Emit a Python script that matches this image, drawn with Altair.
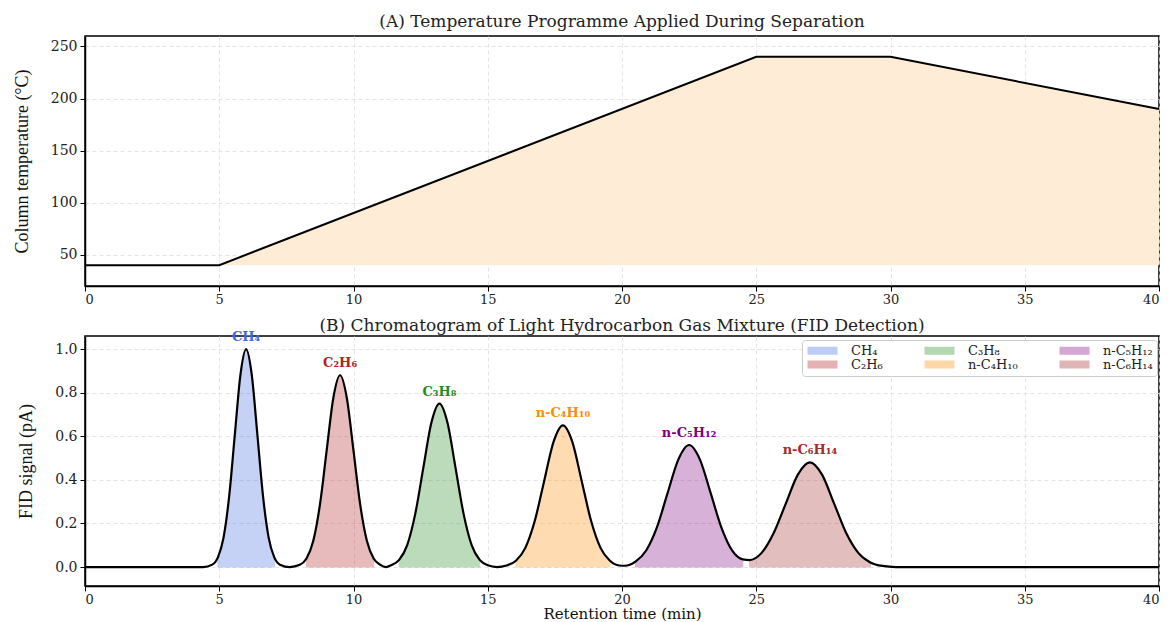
import altair as alt
import pandas as pd

# ---------------- data ----------------
# (A) temperature programme
prog_time = [0, 5, 25, 30, 40]
prog_temp = [40, 40, 240, 240, 190]

# (B) chromatogram trace (retention time in min, FID signal in pA)
sig_time = [0.0, 4.4,
            4.74, 4.95, 5.16, 5.37, 5.58, 5.79, 6.0, 6.21, 6.42, 6.63, 6.84, 7.05, 7.26,
            7.63,
            8.0, 8.25, 8.5, 8.75, 9.0, 9.25, 9.5, 9.75, 10.0, 10.25, 10.5, 10.75, 11.0,
            11.2,
            11.4, 11.7, 12.0, 12.3, 12.6, 12.9, 13.2, 13.5, 13.8, 14.1, 14.4, 14.7, 15.0,
            15.35,
            15.7, 16.05, 16.4, 16.75, 17.1, 17.45, 17.8, 18.15, 18.5, 18.85, 19.2, 19.55, 19.9,
            20.1, 20.5, 20.9, 21.3, 21.7, 22.1, 22.5, 22.9, 23.3, 23.7, 24.1, 24.5,
            24.75, 25.2, 25.65, 26.1, 26.55, 27.0, 27.45, 27.9, 28.35, 28.8, 29.25, 29.7,
            30.2, 40.0]
sig_value = [0.0, 0.0,
             0.011, 0.044, 0.135, 0.325, 0.607, 0.883, 1.0, 0.883, 0.607, 0.325, 0.135, 0.044, 0.011,
             0.0,
             0.010, 0.039, 0.119, 0.286, 0.534, 0.777, 0.88, 0.777, 0.534, 0.286, 0.119, 0.039, 0.010,
             0.0,
             0.008, 0.033, 0.101, 0.244, 0.455, 0.662, 0.75, 0.662, 0.455, 0.244, 0.101, 0.033, 0.008,
             0.0,
             0.007, 0.029, 0.088, 0.211, 0.394, 0.574, 0.65, 0.574, 0.394, 0.211, 0.088, 0.029, 0.007,
             0.006, 0.025, 0.076, 0.182, 0.340, 0.494, 0.56, 0.494, 0.340, 0.182, 0.076, 0.035,
             0.032, 0.065, 0.156, 0.291, 0.424, 0.48, 0.424, 0.291, 0.156, 0.065, 0.021, 0.005,
             0.0, 0.0]

compounds = ["CH₄", "C₂H₆", "C₃H₈", "n-C₄H₁₀", "n-C₅H₁₂", "n-C₆H₁₄"]
peak_time = [6.0, 9.5, 13.2, 17.8, 22.5, 27.0]
peak_height = [1.0, 0.88, 0.75, 0.65, 0.56, 0.48]
window_start = [4.95, 8.25, 11.7, 16.05, 20.5, 24.75]
window_end = [7.05, 10.75, 14.7, 19.55, 24.5, 29.25]
colors = ["#4169e1", "#b22222", "#228b22", "#ff8c00", "#800080", "#a52a2a"]

# ---------------- tables ----------------
prog_df = pd.DataFrame({"t": prog_time, "T": prog_temp})
sig_df = pd.DataFrame({"t": sig_time, "s": sig_value})

fill_rows = []
for name, a, b in zip(compounds, window_start, window_end):
    for t, s in zip(sig_time, sig_value):
        if a <= t <= b:
            fill_rows.append({"t": t, "s": s, "compound": name})
fill_df = pd.DataFrame(fill_rows)

label_df = pd.DataFrame({"t": peak_time, "h": peak_height, "compound": compounds})

SERIF = "DejaVu Serif"
W, H = 1074, 250

x_scale = alt.Scale(domain=[0, 40], nice=False, zero=False)
x_ticks = list(range(0, 41, 5))

# ---------------- panel A ----------------
base_a = alt.Chart(prog_df)
area_a = base_a.mark_area(color="#feecd6").encode(
    x=alt.X("t:Q", scale=x_scale),
    y=alt.Y("T:Q"),
    y2=alt.datum(prog_temp[0]),
)
line_a = base_a.mark_line(color="black", strokeWidth=2).encode(
    x=alt.X("t:Q", scale=x_scale, axis=alt.Axis(values=x_ticks, title=None)),
    y=alt.Y("T:Q", scale=alt.Scale(domain=[20, 260], nice=False, zero=False),
            axis=alt.Axis(values=[50, 100, 150, 200, 250], title="Column temperature (°C)")),
)
panel_a = alt.layer(area_a, line_a).properties(
    width=W, height=H,
    title=alt.TitleParams("(A) Temperature Programme Applied During Separation",
                          font=SERIF, fontSize=17, fontWeight="normal", color="#222",
                          anchor="middle", offset=5),
)

# ---------------- panel B ----------------
y_scale_b = alt.Scale(domain=[-0.087, 1.06], nice=False, zero=False)
color_scale = alt.Scale(domain=compounds, range=colors)

areas_b = alt.Chart(fill_df).mark_area(interpolate="monotone", opacity=0.3, strokeWidth=1).encode(
    x=alt.X("t:Q", scale=x_scale),
    y=alt.Y("s:Q", scale=y_scale_b, stack=None),
    y2=alt.datum(0),
    color=alt.Color("compound:N", scale=color_scale, sort=compounds, legend=alt.Legend(
        title=None, orient="none", legendX=717, legendY=4, columns=3,
        symbolType="M-1,-0.8H5V0.8H-1Z", symbolSize=100, symbolOpacity=0.35,
        labelFont=SERIF, labelFontSize=13, labelColor="#222", labelOffset=32,
        columnPadding=40, rowPadding=0, padding=4,
        fillColor="white", strokeColor="#cccccc", cornerRadius=3,
    )),
    stroke=alt.Stroke("compound:N", scale=color_scale, sort=compounds, legend=None),
)
line_b = alt.Chart(sig_df).mark_line(color="black", strokeWidth=2.2, interpolate="monotone").encode(
    x=alt.X("t:Q", scale=x_scale, axis=alt.Axis(values=x_ticks, title="Retention time (min)",
                                                 titleY=27, titleBaseline="middle")),
    y=alt.Y("s:Q", scale=y_scale_b,
            axis=alt.Axis(values=[0, 0.2, 0.4, 0.6, 0.8, 1.0], format=".1f", title="FID signal (pA)")),
)
labels_b = alt.Chart(label_df).mark_text(
    font=SERIF, fontSize=13, fontWeight="bold", baseline="middle", dy=-12
).encode(
    x=alt.X("t:Q", scale=x_scale),
    y=alt.Y("h:Q", scale=y_scale_b),
    text="compound:N",
    color=alt.Color("compound:N", scale=alt.Scale(domain=compounds, range=colors), legend=None),
)
panel_b = alt.layer(areas_b, line_b, labels_b).resolve_scale(color="independent").properties(
    width=W, height=H,
    title=alt.TitleParams("(B) Chromatogram of Light Hydrocarbon Gas Mixture (FID Detection)",
                          font=SERIF, fontSize=17, fontWeight="normal", color="#222",
                          anchor="middle", offset=-4),
)

chart = alt.vconcat(panel_a, panel_b, spacing=9).properties(
    padding={"left": 12, "top": 12, "right": 0, "bottom": 0},
    background="white",
).configure_view(
    stroke="black", strokeWidth=1.5,
).configure_axis(
    labelFont=SERIF, labelFontSize=14, labelColor="#222",
    titleFont="Liberation Serif", titleFontSize=18, titleFontWeight="normal", titleColor="#111",
    domainColor="black", domainWidth=1.5,
    tickColor="black", tickSize=5, tickWidth=1,
    grid=True, gridColor="#dddddd", gridDash=[4, 3], gridWidth=0.8,
    labelPadding=3, titlePadding=19,
).configure_axisX(
    labelFontSize=13, titleFont=SERIF, titleFontSize=15, labelPadding=2,
)

chart.save("out.html", embed_options={"renderer": "svg", "actions": False})
